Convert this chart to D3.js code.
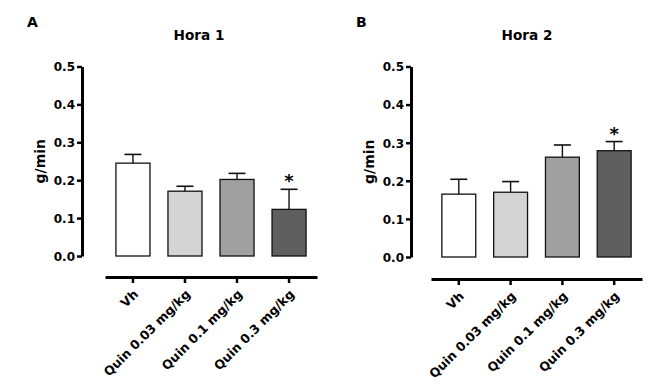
<!DOCTYPE html>
<html><head><meta charset="utf-8">
<script src="https://cdn.jsdelivr.net/npm/d3@7"></script>
<style>
body{margin:0;background:#fff;}
text{font-family:"DejaVu Sans",sans-serif;}
</style></head>
<body><svg id="c" width="658" height="392"></svg>
<script>
const categories = ["Vh","Quin 0.03 mg/kg","Quin 0.1 mg/kg","Quin 0.3 mg/kg"];
const hora1 = [0.245,0.171,0.202,0.123];
const hora1Err = [0.023,0.013,0.016,0.053];
const hora2 = [0.165,0.170,0.262,0.279];
const hora2Err = [0.039,0.028,0.032,0.024];
const yTicks = [0,0.1,0.2,0.3,0.4,0.5];
const fills = ["#ffffff","#d4d4d4","#a0a0a0","#5f5f5f"];
const signif1 = [false,false,false,true];
const signif2 = [false,false,false,true];

const svg = d3.select("#c");

function panel(cfg){
  const g = svg.append("g");
  const y = d3.scaleLinear().domain([0,0.5]).range([cfg.y0, cfg.y1]);
  const x = d3.scaleBand().domain(categories).range([cfg.xa0, cfg.xa1]).paddingInner(0.346).paddingOuter(0.21);

  // y axis
  const ya = g.append("g").attr("transform",`translate(${cfg.yx},0)`)
    .call(d3.axisLeft(y).tickValues(yTicks).tickFormat(d3.format(".1f")).tickSize(5).tickSizeOuter(0).tickPadding(2));
  ya.select(".domain").attr("stroke","#000").attr("stroke-width",3);
  ya.selectAll(".tick line").attr("stroke","#000").attr("stroke-width",2.5);
  ya.selectAll(".tick text").attr("font-family","DejaVu Sans").attr("font-size",12).attr("font-weight","bold").attr("fill","#000")
    .attr("dy","0.36em");

  // x axis
  const xa = g.append("g").attr("transform",`translate(0,${cfg.xy})`)
    .call(d3.axisBottom(x).tickSize(6).tickSizeOuter(0).tickPadding(0));
  xa.select(".domain").attr("stroke","#000").attr("stroke-width",3);
  xa.selectAll(".tick line").attr("stroke","#000").attr("stroke-width",2.5);
  xa.selectAll(".tick text").attr("font-family","DejaVu Sans").attr("font-size",12.5).attr("font-weight","bold").attr("fill","#000")
    .attr("text-anchor","end").attr("x",0).attr("y",0).attr("dy",0)
    .attr("transform","translate(6,18) rotate(-45)");

  // bars
  g.selectAll("rect.bar").data(cfg.vals).join("rect")
    .attr("x",(d,i)=>x(categories[i])).attr("width",x.bandwidth())
    .attr("y",d=>y(d)).attr("height",d=>y(0)-y(d))
    .attr("fill",(d,i)=>fills[i]).attr("stroke","#111").attr("stroke-width",1.3);
  // error bars
  const cap = 17;
  cfg.vals.forEach((v,i)=>{
    const cx = x(categories[i]) + x.bandwidth()/2;
    const top = y(v+cfg.err[i]);
    g.append("line").attr("x1",cx).attr("x2",cx).attr("y1",y(v)).attr("y2",top).attr("stroke","#111").attr("stroke-width",1.4);
    g.append("line").attr("x1",cx-cap/2).attr("x2",cx+cap/2).attr("y1",top).attr("y2",top).attr("stroke","#111").attr("stroke-width",1.6);
    if(cfg.sig[i]){
      g.append("text").attr("x",cx).attr("y",top-2).attr("text-anchor","middle")
        .attr("font-size",18).attr("font-weight","bold").text("*");
    }
  });

  // y label
  g.append("text").attr("transform",`translate(${cfg.ylx},${(cfg.y0+cfg.y1)/2}) rotate(-90)`)
    .attr("text-anchor","middle").attr("font-size",14).attr("font-weight","bold").text("g/min");
  // title
  g.append("text").attr("x",cfg.tx).attr("y",40).attr("text-anchor","middle")
    .attr("font-size",13.6).attr("font-weight","bold").text(cfg.title);
  // letter
  g.append("text").attr("x",cfg.lx).attr("y",27).attr("font-size",14).attr("font-weight","bold").text(cfg.letter);
}

panel({vals:hora1, err:hora1Err, sig:signif1, y0:256, y1:66.5, yx:82, xa0:105, xa1:317, xy:277,
       ylx:45, tx:199, lx:27, title:"Hora 1", letter:"A"});
panel({vals:hora2, err:hora2Err, sig:signif2, y0:257, y1:66.5, yx:411, xa0:431, xa1:642, xy:279,
       ylx:374, tx:527, lx:356, title:"Hora 2", letter:"B"});
</script></body></html>
